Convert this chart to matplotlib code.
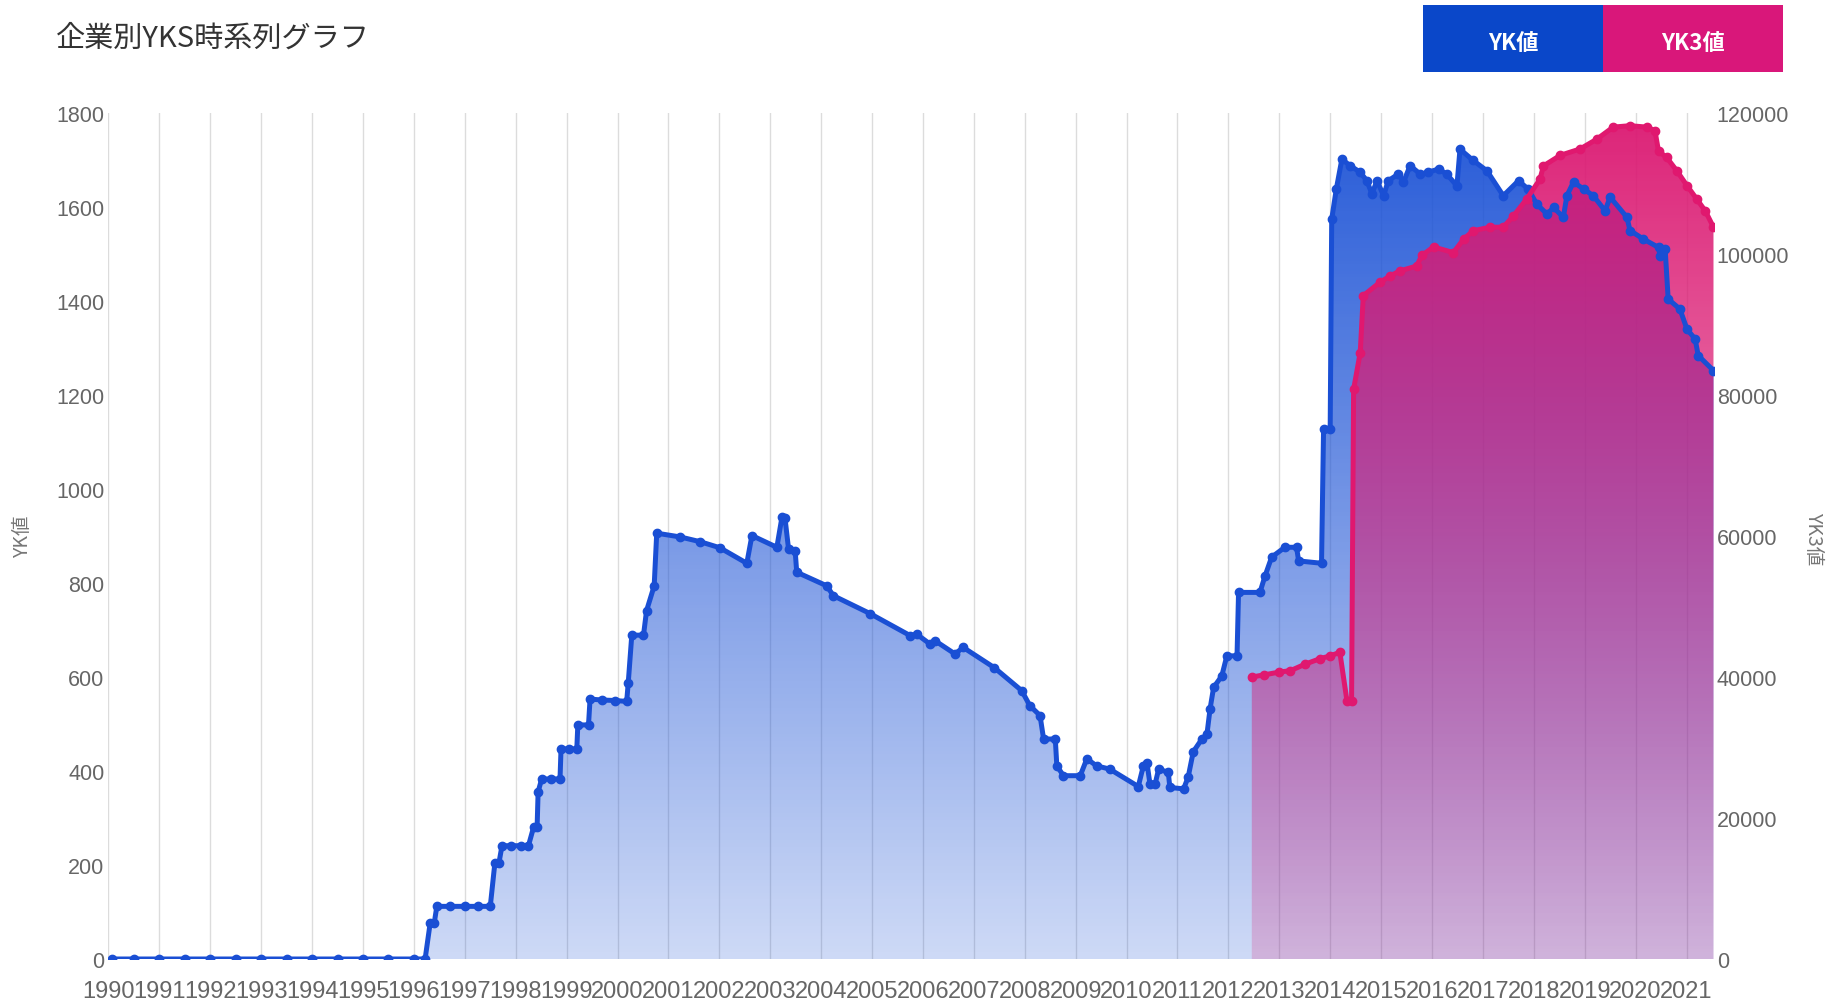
import numpy as np
import matplotlib
matplotlib.use("Agg")
import matplotlib.pyplot as plt
import matplotlib.colors as mcolors
from matplotlib.patches import Rectangle

# data (x = decimal year)
yk_years = [1990.07, 1990.5, 1991.0, 1991.5, 1992.0, 1992.5, 1993.0, 1993.5, 1994.0, 1994.5,
            1995.0, 1995.5, 1996.0, 1996.22,
            1996.32, 1996.40, 1996.45, 1996.7, 1997.0, 1997.25, 1997.50, 1997.59, 1997.67,
            1997.73, 1997.9, 1998.1, 1998.25, 1998.35, 1998.42, 1998.44, 1998.51, 1998.7,
            1998.87, 1998.89, 1999.05, 1999.20, 1999.22, 1999.43, 1999.46, 1999.7, 1999.95,
            2000.18, 2000.21, 2000.28, 2000.51, 2000.57, 2000.72, 2000.77,
            2001.23, 2001.62, 2002.01, 2002.54, 2002.64, 2003.13, 2003.23, 2003.29, 2003.36,
            2003.49, 2003.52, 2004.11, 2004.24, 2004.96, 2005.75, 2005.88, 2006.14, 2006.24,
            2006.63, 2006.79, 2007.4, 2007.94, 2008.10, 2008.30, 2008.37, 2008.60, 2008.63,
            2008.76, 2009.09, 2009.22, 2009.41, 2009.67, 2010.23, 2010.33, 2010.40, 2010.46,
            2010.56, 2010.63, 2010.82, 2010.85, 2011.12, 2011.21, 2011.31, 2011.48, 2011.58,
            2011.64, 2011.71, 2011.87, 2011.97, 2012.17, 2012.20, 2012.62, 2012.72, 2012.85,
            2013.11, 2013.34, 2013.38, 2013.83, 2013.87, 2014.00, 2014.03, 2014.12, 2014.23,
            2014.39, 2014.59, 2014.72, 2014.82, 2014.92, 2015.05, 2015.14, 2015.34, 2015.44,
            2015.57, 2015.77, 2015.93, 2016.13, 2016.29, 2016.49, 2016.55, 2016.81, 2017.08,
            2017.40, 2017.70, 2017.89, 2018.06, 2018.26, 2018.39, 2018.58, 2018.65, 2018.78,
            2018.98, 2019.17, 2019.40, 2019.50, 2019.83, 2019.89, 2020.15, 2020.45, 2020.48,
            2020.58, 2020.64, 2020.87, 2021.01, 2021.17, 2021.23, 2021.53]
yk_values = [0, 0, 0, 0, 0, 0, 0, 0, 0, 0,
             0, 0, 0, 0,
             77, 77, 112, 112, 112, 112, 112, 204, 204,
             241, 241, 241, 241, 280, 280, 356, 383, 383,
             383, 447, 447, 447, 498, 498, 553, 551, 550,
             548, 587, 689, 689, 741, 794, 906,
             898, 888, 875, 842, 901, 876, 940, 938, 872,
             868, 823, 794, 773, 735, 688, 691, 670, 677,
             649, 663, 620, 571, 539, 518, 468, 468, 411,
             390, 390, 426, 411, 404, 367, 411, 418, 372,
             372, 404, 397, 365, 362, 387, 441, 468, 479,
             532, 578, 602, 645, 645, 780, 780, 815, 855,
             876, 876, 847, 842, 1128, 1128, 1574, 1638, 1702,
             1688, 1674, 1656, 1628, 1656, 1624, 1656, 1670, 1653,
             1688, 1670, 1674, 1681, 1670, 1645, 1723, 1699, 1677,
             1624, 1656, 1638, 1606, 1585, 1599, 1578, 1624, 1653,
             1638, 1624, 1592, 1621, 1578, 1550, 1532, 1514, 1496,
             1511, 1404, 1383, 1340, 1319, 1284, 1252]

yk3_years = [2012.46, 2012.7, 2013.0, 2013.22, 2013.5, 2013.8, 2014.0, 2014.19, 2014.33,
             2014.42, 2014.46, 2014.59, 2014.65, 2014.98, 2015.18, 2015.37, 2015.70, 2015.80,
             2016.03, 2016.42, 2016.62, 2016.81, 2017.14, 2017.40, 2017.60, 2017.86, 2018.12,
             2018.19, 2018.52, 2018.91, 2019.24, 2019.56, 2019.89, 2020.22, 2020.38, 2020.45,
             2020.61, 2020.81, 2021.01, 2021.20, 2021.37, 2021.53]
yk3_values = [40000, 40300, 40700, 40900, 41800, 42600, 43000, 43500, 36600,
              36600, 80800, 86000, 94100, 96000, 96900, 97600, 98300, 99800,
              101000, 100200, 102100, 103300, 103800, 103800, 105400, 107800, 110600,
              112500, 114000, 114900, 116300, 118000, 118200, 118000, 117500, 114600,
              113700, 111800, 109700, 107800, 106100, 103800]

year_ticks = list(range(1990, 2022))
yk_ticks = list(range(0, 1801, 200))
yk3_ticks = list(range(0, 120001, 20000))
series_names = ["YK値", "YK3値"]
title = "企業別YKS時系列グラフ"

BLUE = "#1a4fd4"
PINK = "#e0186f"
LEGEND_COLORS = ["#0a47c9", "#d9177a"]
JP = ["Noto Sans CJK JP", "DejaVu Sans"]
NUM = ["Liberation Sans", "DejaVu Sans"]


def gradient_fill(ax, x, y, color, a0, a1, ymax, xlim):
    poly = ax.fill_between(x, y, 0, facecolor="none", edgecolor="none")
    rgba = np.zeros((256, 1, 4))
    rgba[..., :3] = mcolors.to_rgb(color)
    rgba[:, 0, 3] = np.linspace(a0, a1, 256)
    im = ax.imshow(rgba, aspect="auto", origin="lower",
                   extent=[xlim[0], xlim[1], 0, ymax], zorder=1)
    im.set_clip_path(poly.get_paths()[0], transform=ax.transData)
    return im


fig = plt.figure(figsize=(18.37, 10.03), dpi=100)
ax = fig.add_axes([0.05906, 0.04287, 0.87398, 0.84347])
ax2 = ax.twinx()
xlim = (1990, 2021.54)

for a in (ax, ax2):
    for s in a.spines.values():
        s.set_visible(False)
    a.patch.set_visible(False)

ax.set_axisbelow(True)
ax.grid(axis="x", color="#dcdcdc", linewidth=1)
ax.grid(axis="y", visible=False)

gradient_fill(ax, yk_years, yk_values, (0.12, 0.33, 0.84), 0.22, 0.97, 1800, xlim)
gradient_fill(ax2, yk3_years, yk3_values, (0.86, 0.10, 0.45), 0.20, 0.96, 120000, xlim)

# blue line on top of the pink fill
ax2.plot(yk_years, yk_values, color=BLUE, lw=3.6, marker="o", ms=6,
         transform=ax.transData, zorder=5, solid_joinstyle="round")
ax2.plot(yk3_years, yk3_values, color=PINK, lw=3.6, marker="o", ms=6, zorder=6,
         solid_joinstyle="round")

ax.set_xlim(*xlim)
ax.set_ylim(0, 1800)
ax2.set_ylim(0, 120000)
ax2.set_xlim(*xlim)

ax.set_xticks(year_ticks)
ax.set_xticklabels([str(y) for y in year_ticks], fontfamily=NUM, fontsize=17, color="#666666")
ax.set_yticks(yk_ticks)
ax.set_yticklabels([str(v) for v in yk_ticks], fontfamily=NUM, fontsize=15.5, color="#666666")
ax2.set_yticks(yk3_ticks)
ax2.set_yticklabels([str(v) for v in yk3_ticks], fontfamily=NUM, fontsize=15.5, color="#666666")
ax.tick_params(axis="x", length=0, pad=15)
ax.tick_params(axis="y", length=0, pad=3)
ax2.tick_params(axis="y", length=0, pad=2)

fig.text(56 / 1837, 1 - 39 / 1003, title, family=JP, fontsize=21, color="#333333",
         va="center", ha="left")
fig.text(23 / 1837, 1 - 537 / 1003, series_names[0], family=JP, fontsize=14,
         color="#777777", rotation=90, va="center", ha="center")
fig.text(1814 / 1837, 1 - 539 / 1003, series_names[1], family=JP, fontsize=14,
         color="#777777", rotation=-90, va="center", ha="center")

# legend boxes
box_w, box_h = 180 / 1837, 67 / 1003
box_y = 1 - 73 / 1003
for i, (name, col) in enumerate(zip(series_names, LEGEND_COLORS)):
    x0 = 1423 / 1837 + i * box_w
    fig.add_artist(Rectangle((x0, box_y), box_w, box_h, transform=fig.transFigure,
                             facecolor=col, edgecolor="none"))
    fig.text(x0 + box_w / 2, box_y + box_h / 2 - 0.004, name, family=JP, fontsize=16,
             fontweight="bold", color="white", ha="center", va="center")

fig.savefig("out.png", dpi=100)
